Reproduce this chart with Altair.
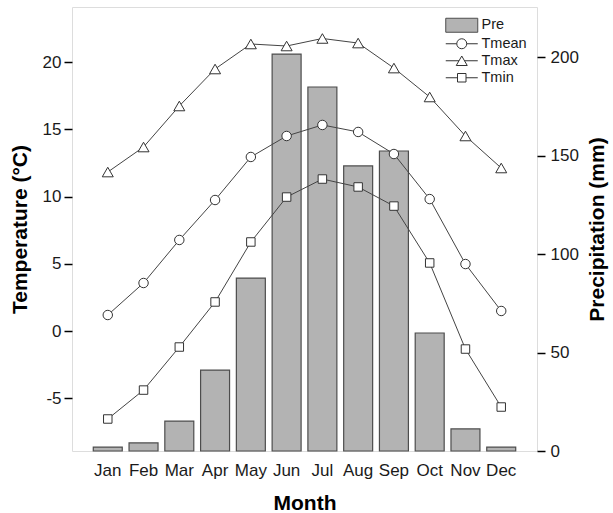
import altair as alt
import pandas as pd

months = ["Jan", "Feb", "Mar", "Apr", "May", "Jun", "Jul", "Aug", "Sep", "Oct", "Nov", "Dec"]
pre = [2.0, 4.1, 15.2, 41.1, 87.8, 201.5, 184.8, 144.7, 152.3, 59.9, 11.2, 2.0]
tmean = [1.19, 3.57, 6.77, 9.74, 12.94, 14.50, 15.32, 14.80, 13.16, 9.81, 4.98, 1.49]
tmax = [11.82, 13.68, 16.73, 19.48, 21.34, 21.19, 21.75, 21.41, 19.55, 17.40, 14.50, 12.12]
tmin = [-6.54, -4.39, -1.19, 2.16, 6.62, 9.96, 11.30, 10.71, 9.29, 5.06, -1.34, -5.65]
series_names = ["Pre", "Tmean", "Tmax", "Tmin"]
temp_ticks = [-5, 0, 5, 10, 15, 20]
pre_ticks = [0, 50, 100, 150, 200]

FONT = "Liberation Sans"
BAR_FILL = "#b3b3b3"
BAR_STROKE = "#4d4d4d"
LINE_COL = "#333333"

pre_df = pd.DataFrame({"Month": months, "Pre": pre, "series": "Pre"})
temp_df = pd.concat([
    pd.DataFrame({"Month": months, "T": tmean, "series": "Tmean"}),
    pd.DataFrame({"Month": months, "T": tmax, "series": "Tmax"}),
    pd.DataFrame({"Month": months, "T": tmin, "series": "Tmin"}),
], ignore_index=True)

x_enc = alt.X(
    "Month:N", sort=months,
    scale=alt.Scale(domain=months, paddingInner=0.19, paddingOuter=0.595),
    axis=alt.Axis(title="Month", labelAngle=0, ticks=False, domain=False,
                  labelFontSize=17, labelFont=FONT, labelColor="#1a1a1a", labelPadding=11,
                  titleFontSize=21, titleFont=FONT, titleFontWeight="bold", titleColor="black",
                  titlePadding=14),
)

bars = alt.Chart(pre_df).mark_bar(fill=BAR_FILL, stroke=BAR_STROKE, strokeWidth=1.2).encode(
    x=x_enc,
    y=alt.Y("Pre:Q", scale=alt.Scale(domain=[0, 225.4], nice=False, zero=False),
            axis=alt.Axis(orient="right", values=pre_ticks, title="Precipitation (mm)",
                          titleAngle=270, titleBaseline="top",
                          grid=False, domain=False, tickSize=8, tickWidth=1.5, tickColor="black",
                          labelFontSize=17, labelFont=FONT, labelColor="#1a1a1a", labelPadding=5,
                          titleFontSize=21, titleFont=FONT, titleFontWeight="bold", titleColor="black",
                          titlePadding=8)),
)

temp_scale = alt.Scale(domain=[-8.92, 24.09], nice=False, zero=False)
y_temp = alt.Y("T:Q", scale=temp_scale,
               axis=alt.Axis(orient="left", values=temp_ticks, labelExpr="'' + datum.value",
                             title="Temperature (°C)", grid=False, domain=False,
                             tickSize=8, tickWidth=1.5, tickColor="black",
                             labelFontSize=17, labelFont=FONT, labelColor="#1a1a1a", labelPadding=3,
                             titleFontSize=21, titleFont=FONT, titleFontWeight="bold", titleColor="black",
                             titlePadding=12))

lines = alt.Chart(temp_df).mark_line(color="#444444", strokeWidth=1).encode(
    x=x_enc, y=y_temp, detail="series:N",
)

circle_p = "M0.86,0A0.86,0.86 0 1,1 -0.86,0A0.86,0.86 0 1,1 0.86,0Z"
tri_p = "M0,-0.87L1,0.87L-1,0.87Z"
sq_p = "M-0.77,-0.77H0.77V0.77H-0.77Z"

points = alt.Chart(temp_df).mark_point(filled=False, fill="white", fillOpacity=1, stroke=LINE_COL,
                                       strokeWidth=1, size=121, opacity=1).encode(
    x=x_enc,
    y=alt.Y("T:Q", scale=temp_scale, axis=None),
    shape=alt.Shape("series:N",
                    scale=alt.Scale(domain=series_names[1:], range=[circle_p, tri_p, sq_p]),
                    legend=None),
)

# legend symbols (path strings), one legend per series
leg_paths = {
    "Pre": "M-1.1,-1.4H5.3V1.4H-1.1Z",
    "Tmean": "M-1.1,0H1.1M3.1,0H5.3M3.1,0A1,1 0 1,1 1.1,0A1,1 0 1,1 3.1,0Z",
    "Tmax": "M-1.1,0H1.55M2.65,0H5.3M2.1,-0.95L3.2,0.95L1.0,0.95Z",
    "Tmin": "M-1.1,0H1.25M2.95,0H5.3M1.25,-0.85H2.95V0.85H1.25Z",
}
leg_fill = {"Pre": BAR_FILL, "Tmean": "white", "Tmax": "white", "Tmin": "white"}
leg_stroke = {"Pre": BAR_STROKE, "Tmean": LINE_COL, "Tmax": LINE_COL, "Tmin": LINE_COL}
leg_y = [11, 29.5, 46.5, 63.5]

legend_layers = []
for name, ly in zip(series_names, leg_y):
    df = pd.DataFrame({"series": [name]})
    lay = alt.Chart(df).mark_point(filled=True, fill=leg_fill[name], size=0, strokeWidth=1).encode(
        stroke=alt.Stroke("series:N",
                          scale=alt.Scale(domain=[name], range=[leg_stroke[name]]),
                          legend=alt.Legend(title=None, orient="none", legendX=372, legendY=ly,
                                            symbolType=leg_paths[name],
                                            symbolSize=100, labelOffset=23, padding=0,
                                            labelFontSize=14.5, labelFont=FONT, labelColor="#1a1a1a",
                                            symbolStrokeWidth=1, symbolOpacity=1,
                                            symbolFillColor=leg_fill[name])),
    )
    legend_layers.append(lay)

chart = alt.layer(bars, lines, points, *legend_layers).resolve_scale(
    y="independent", stroke="independent"
).properties(
    width=465, height=444,
    padding={"left": 72, "top": 7, "right": 76, "bottom": 62},
    autosize=alt.AutoSizeParams(type="none"),
).configure_view(stroke="black", strokeWidth=1.5).configure(background="white")

chart.save("out.html", embed_options={"renderer": "svg", "actions": False})
